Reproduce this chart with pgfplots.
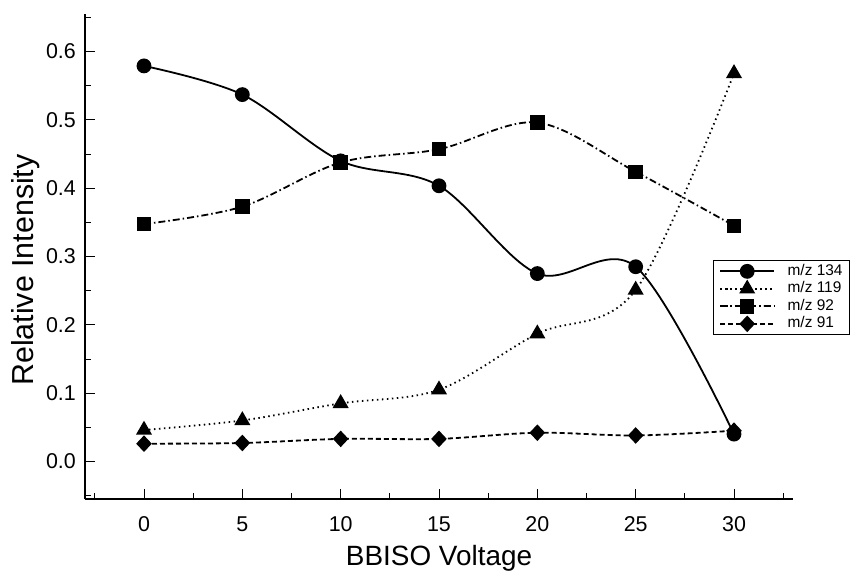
\documentclass[border=0pt]{standalone}
\usepackage{fontspec}
\setmainfont{Liberation Sans}
\usepackage{pgfplots}
\pgfplotsset{compat=1.18}
\usetikzlibrary{calc}

\begin{document}
\begin{tikzpicture}
\begin{axis}[
  scale only axis, width=708bp, height=485bp,
  xmin=-3, xmax=33, ymin=-0.055, ymax=0.655,
  axis x line*=bottom, axis y line*=left,
  axis line style={line width=1.6bp},
  tick align=inside,
  xtick={0,5,10,15,20,25,30},
  minor xtick={-2.5,2.5,7.5,12.5,17.5,22.5,27.5,32.5},
  ytick={0,0.1,0.2,0.3,0.4,0.5,0.6},
  minor ytick={-0.05,0.05,0.15,0.25,0.35,0.45,0.55,0.65},
  major tick length=10bp, minor tick length=6bp,
  every tick/.style={line width=0.9bp, black},
  /pgf/number format/assume math mode=true,
  tick label style={font=\fontsize{21.5}{25}\selectfont},
  yticklabel style={/pgf/number format/fixed, /pgf/number format/fixed zerofill, /pgf/number format/precision=1, inner sep=0pt, xshift=-9bp},
  xticklabel style={inner sep=0pt, yshift=-17.5bp},
  xlabel={BBISO Voltage},
  ylabel={Relative Intensity},
  every axis x label/.style={at={($(axis description cs:0.5,0)+(0,-66bp)$)}, anchor=base, font=\fontsize{28}{32}\selectfont},
  every axis y label/.style={at={($(axis description cs:0,0.5)+(-51.7bp,-13.5bp)$)}, rotate=90, anchor=base, font=\fontsize{30.5}{34}\selectfont},
  legend style={at={(axis description cs:0.8866,0.4928)}, anchor=north west, draw=black, line width=1.2bp,
    font=\fontsize{15.5}{18}\selectfont, inner xsep=6bp, inner ysep=2bp,
    nodes={inner sep=1.5bp, text height=11bp, text depth=3.5bp},
    column sep=11bp},
  legend cell align=left,
  legend image code/.code={\draw[mark repeat=2, mark phase=2] plot coordinates {(0bp,0bp) (27bp,0bp) (54bp,0bp)};},
  every axis plot/.append style={line width=1.8bp, black},
]
\addplot[smooth, tension=0.55, mark=*, mark size=6.5bp, mark options={solid}] coordinates {
  (0,0.579) (5,0.537) (10,0.440) (15,0.4035) (20,0.275) (25,0.285) (30,0.040)};
\addlegendentry{m/z 134}
\addplot[smooth, tension=0.55, dash pattern=on 1.5bp off 3.5bp, mark=triangle*, mark size=7.5bp, mark options={solid}] coordinates {
  (0,0.046) (5,0.060) (10,0.085) (15,0.105) (20,0.187) (25,0.251) (30,0.568)};
\addlegendentry{m/z 119}
\addplot[smooth, tension=0.55, dash pattern=on 7bp off 3bp on 1.5bp off 3bp, mark=square*, mark size=6.3bp, mark options={solid}] coordinates {
  (0,0.3475) (5,0.373) (10,0.4376) (15,0.457) (20,0.496) (25,0.424) (30,0.345)};
\addlegendentry{m/z 92}
\addplot[smooth, tension=0.55, dash pattern=on 5bp off 3bp, mark=diamond*, mark size=7bp, mark options={solid, xscale=1.25}] coordinates {
  (0,0.026) (5,0.027) (10,0.033) (15,0.033) (20,0.042) (25,0.038) (30,0.045)};
\addlegendentry{m/z 91}
\end{axis}
\pgfresetboundingbox
\path ($(current axis.south west)+(-85bp,-72bp)$) rectangle ($(current axis.north east)+(57bp,14bp)$);
\end{tikzpicture}
\end{document}
